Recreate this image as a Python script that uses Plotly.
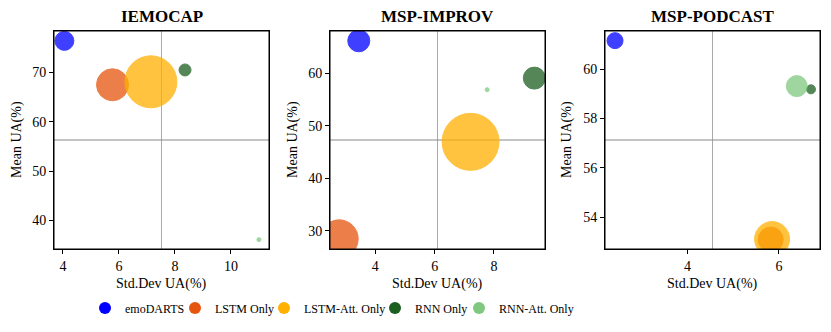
import plotly.graph_objects as go

# models and colours
models = ["emoDARTS", "LSTM Only", "LSTM-Att. Only", "RNN Only", "RNN-Att. Only"]
colors = ["#0000ff", "#e6550d", "#ffb000", "#1b5e20", "#7fc97f"]

datasets = ["IEMOCAP", "MSP-IMPROV", "MSP-PODCAST"]

# std dev UA (x), mean UA (y), bubble magnitude, per dataset
iemocap_std = [4.05, 5.77, 7.14, 8.36, 11.0]
iemocap_mean = [76.4, 67.5, 68.1, 70.5, 36.1]
iemocap_bubble = [19, 32, 52, 12, 4]

improv_std = [3.44, 2.78, 7.21, 9.36, 7.77]
improv_mean = [66.2, 28.5, 46.97, 59.1, 56.9]
improv_bubble = [22, 38, 57, 22, 4]

podcast_std = [2.415, 5.82, 5.85, 6.70, 6.39]
podcast_mean = [61.15, 53.1, 53.12, 59.18, 59.31]
podcast_bubble = [16, 25, 35, 9, 21]

all_std = [iemocap_std, improv_std, podcast_std]
all_mean = [iemocap_mean, improv_mean, podcast_mean]
all_bubble = [iemocap_bubble, improv_bubble, podcast_bubble]

# axis ranges
x_ranges = [[3.68, 11.36], [2.47, 9.72], [2.196, 6.897]]
y_ranges = [[34.2, 78.4], [26.57, 68.07], [52.72, 61.54]]
x_ticks = [[4, 6, 8, 10], [4, 6, 8], [4, 6]]
y_ticks = [[40, 50, 60, 70], [30, 40, 50, 60], [54, 56, 58, 60]]

W, H = 831, 332
panels_px = [(54, 269), (330, 545), (605, 820)]
ytitle_px = [17, 293, 567]
top_px, bot_px = 31, 249
font = "Liberation Serif"
legend_px = [105, 195, 284, 395, 479]

fig = go.Figure()
layout = {}
for k in range(3):
    xa = "x" if k == 0 else "x%d" % (k + 1)
    ya = "y" if k == 0 else "y%d" % (k + 1)
    for i in range(5):
        fig.add_trace(go.Scatter(
            x=[all_std[k][i]], y=[all_mean[k][i]], mode="markers",
            marker=dict(size=all_bubble[k][i], color=colors[i], opacity=0.75,
                        line=dict(color=colors[i], width=1)),
            xaxis=xa, yaxis=ya, showlegend=False, hoverinfo="skip"))
    x0, x1 = panels_px[k]
    axis_common = dict(showgrid=False, zeroline=False, showline=True, linecolor="black",
                       linewidth=1, mirror=True, ticks="outside", ticklen=4,
                       tickcolor="black", tickfont=dict(family=font, size=14, color="black"),
                       automargin=False)
    layout["xaxis" if k == 0 else "xaxis%d" % (k + 1)] = dict(
        axis_common, domain=[x0 / W, x1 / W], range=x_ranges[k], tickvals=x_ticks[k],
        anchor=ya)
    layout["yaxis" if k == 0 else "yaxis%d" % (k + 1)] = dict(
        axis_common, domain=[1 - bot_px / H, 1 - top_px / H], range=y_ranges[k],
        tickvals=y_ticks[k], anchor=xa)
    # quadrant lines at the centre of each panel
    fig.add_shape(type="line", xref=xa + " domain", yref=ya + " domain",
                  x0=0.5, x1=0.5, y0=0, y1=1, line=dict(color="#aaaaaa", width=1),
                  layer="below")
    fig.add_shape(type="line", xref=xa + " domain", yref=ya + " domain",
                  x0=0, x1=1, y0=0.5, y1=0.5, line=dict(color="#888888", width=1),
                  layer="below")
    # frame
    fig.add_shape(type="rect", xref=xa + " domain", yref=ya + " domain",
                  x0=0, x1=1, y0=0, y1=1, line=dict(color="black", width=1))
    # titles
    fig.add_annotation(text="<b>%s</b>" % datasets[k], xref="paper", yref="paper",
                       x=(x0 + x1) / 2 / W, y=1 - 17 / H, xanchor="center",
                       yanchor="middle", showarrow=False,
                       font=dict(family=font, size=17, color="black"))
    fig.add_annotation(text="Std.Dev UA(%)", xref="paper", yref="paper",
                       x=(x0 + x1) / 2 / W, y=1 - 284 / H, xanchor="center",
                       yanchor="middle", showarrow=False,
                       font=dict(family=font, size=14, color="black"))
    fig.add_annotation(text="Mean UA(%)", xref="paper", yref="paper", textangle=-90,
                       x=ytitle_px[k] / W, y=1 - (top_px + bot_px) / 2 / H,
                       xanchor="center", yanchor="middle", showarrow=False,
                       font=dict(family=font, size=14, color="black"))

# legend entries, one small legend each so they sit where the reference has them
for i in range(5):
    lg = "legend" if i == 0 else "legend%d" % (i + 1)
    fig.add_trace(go.Scatter(x=[None], y=[None], mode="markers", name=models[i],
                             marker=dict(size=13, color=colors[i]), legend=lg))
    layout[lg] = dict(x=(legend_px[i] - 20) / W, xanchor="left", y=1 - 308 / H,
                      yanchor="middle", font=dict(family=font, size=12, color="black"),
                      itemsizing="constant", bgcolor="rgba(0,0,0,0)")

fig.update_layout(**layout)
fig.update_layout(
    width=W, height=H, margin=dict(l=0, r=0, t=0, b=0),
    paper_bgcolor="white", plot_bgcolor="white",
)
# drop the browser's default body margin so the figure sits at the page corner
fig.write_html("out.html", config={"displayModeBar": False},
               post_script="document.body.style.margin='0px';")
